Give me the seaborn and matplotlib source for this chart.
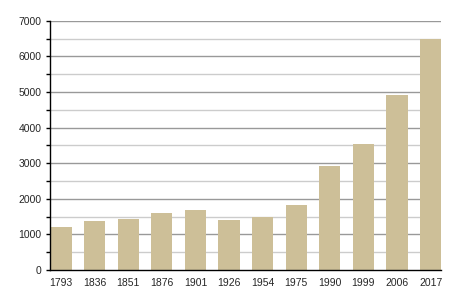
import matplotlib
matplotlib.use("Agg")
import matplotlib.pyplot as plt
import seaborn as sns
import pandas as pd
from matplotlib.ticker import MultipleLocator

years = ["1793", "1836", "1851", "1876", "1901", "1926", "1954", "1975", "1990", "1999", "2006", "2017"]
population = [1215, 1385, 1440, 1600, 1690, 1410, 1490, 1830, 2930, 3545, 4920, 6500]
yticks = [0, 1000, 2000, 3000, 4000, 5000, 6000, 7000]

df = pd.DataFrame({"year": years, "pop": population})

sns.set_style("white")
plt.rcParams["font.family"] = ["Liberation Sans", "DejaVu Sans"]

fig = plt.figure(figsize=(4.5, 3), dpi=100)
ax = fig.add_axes([50/450, 30/300, 391/450, 249.3/300])

sns.barplot(data=df, x="year", y="pop", color="#cdbf98", saturation=1,
            width=0.63, ax=ax, linewidth=0, edgecolor="none")
for p in ax.patches:
    p.set_zorder(3)

ax.set_ylim(0, 7000)
ax.set_xlim(-0.33, 11.31)
ax.set_yticks(yticks)
ax.yaxis.set_minor_locator(MultipleLocator(500))
ax.grid(False)
for v in range(500, 7001, 500):
    if v % 1000 == 0:
        ax.axhline(v, color="#999999", lw=1, zorder=1)
    else:
        ax.axhline(v, color="#cccccc", lw=1, zorder=1)

ax.set_xlabel("")
ax.set_ylabel("")
for s in ["top", "right"]:
    ax.spines[s].set_visible(False)
for s in ["left", "bottom"]:
    ax.spines[s].set_color("black")
    ax.spines[s].set_linewidth(1)
    ax.spines[s].set_zorder(4)

ax.tick_params(axis="y", which="both", left=True, length=3, width=1, color="black", labelsize=7.5, pad=3)
ax.tick_params(axis="x", bottom=False, labelsize=7.5, pad=2)

fig.savefig("out.png", dpi=100)
